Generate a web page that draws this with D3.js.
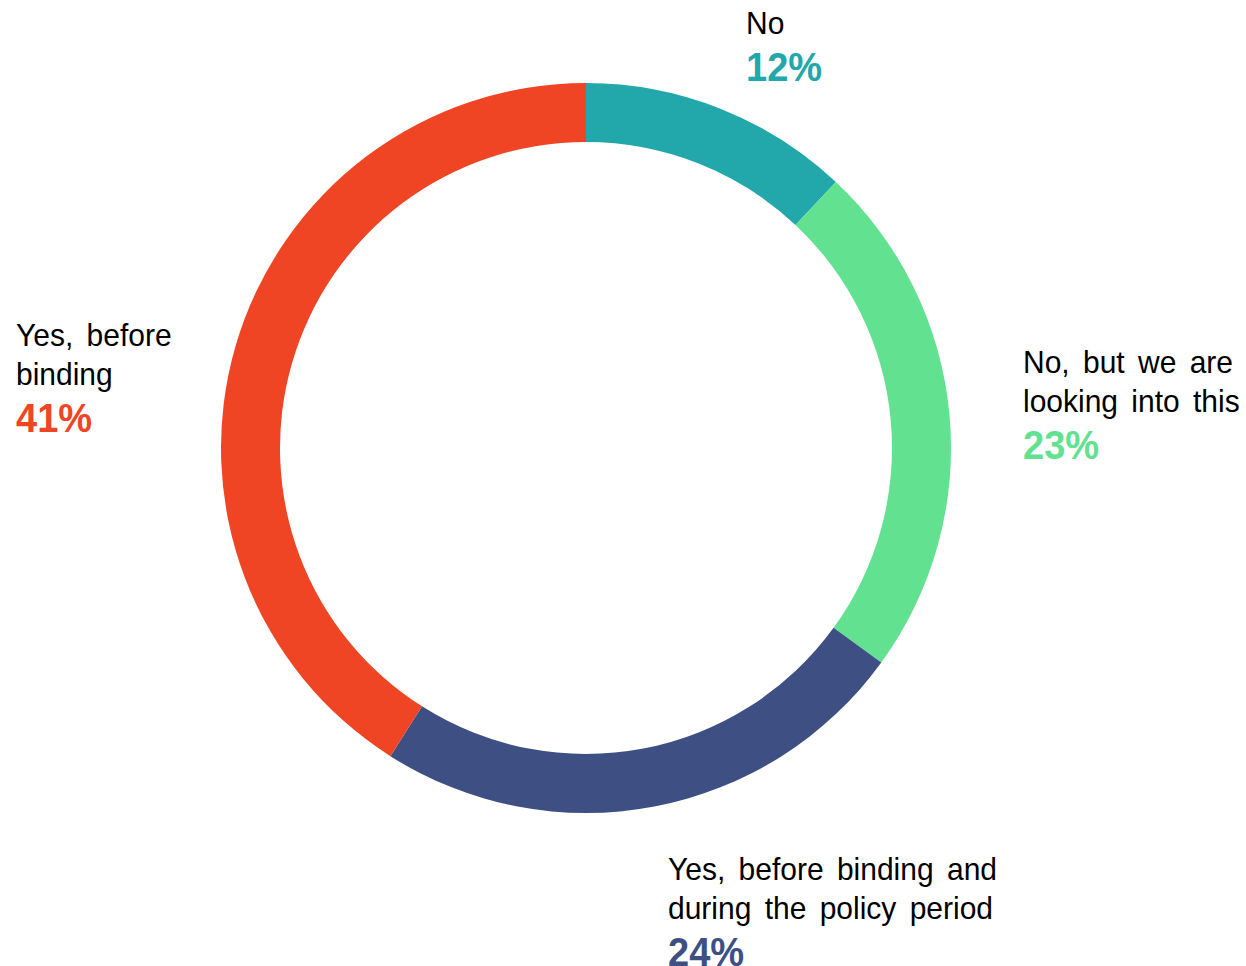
<!DOCTYPE html>
<html>
<head>
<meta charset="utf-8">
<script src="https://cdn.jsdelivr.net/npm/d3@7"></script>
<style>
  html, body { margin: 0; padding: 0; background: #fff; }
  svg { display: block; font-family: "Liberation Sans", Arial, sans-serif; }
</style>
</head>
<body>
<svg id="chart" width="1246" height="966"></svg>
<script>
// Survey answers, clockwise from 12 o'clock
const categories = ["No", "No, but we are looking into this", "Yes, before binding and during the policy period", "Yes, before binding"];
const labelLines = [["No"], ["No, but we are", "looking into this"], ["Yes, before binding and", "during the policy period"], ["Yes, before", "binding"]];
const values = [12, 23, 24, 41];
const colors = ["#22A7AA", "#62E291", "#3E4F84", "#EF4524"];

// Label anchors (left edge, first baseline)
const labelPos = [[746, 34], [1023, 373], [668, 880], [16, 346]];

const W = 1246, H = 966;
const cx = 586, cy = 448;
const outerR = 365, innerR = 306;

const svg = d3.select("#chart");
const g = svg.append("g").attr("transform", `translate(${cx},${cy})`);

const pie = d3.pie().sort(null).value(d => d)(values);
const arc = d3.arc().innerRadius(innerR).outerRadius(outerR);

g.selectAll("path.slice")
  .data(pie)
  .join("path")
  .attr("class", "slice")
  .attr("d", arc)
  .attr("fill", (d, i) => colors[i]);

const fmt = v => `${v}%`;
const lineGap = 39;

const labels = svg.selectAll("g.label")
  .data(categories)
  .join("g")
  .attr("class", "label")
  .attr("transform", (d, i) => `translate(${labelPos[i][0]},${labelPos[i][1]})`);

labels.each(function (d, i) {
  const el = d3.select(this);
  labelLines[i].forEach((line, j) => {
    el.append("text")
      .attr("transform", `translate(0,${j * lineGap}) scale(1,1.03)`)
      .attr("font-size", 30)
      .attr("word-spacing", 5)
      .attr("fill", "#000")
      .text(line);
  });
  el.append("text")
    .attr("transform", `translate(0,${labelLines[i].length * lineGap + 8}) scale(1,1.05)`)
    .attr("font-size", 38)
    .attr("font-weight", "bold")
    .attr("fill", colors[i])
    .text(fmt(values[i]));
});
</script>
</body>
</html>
